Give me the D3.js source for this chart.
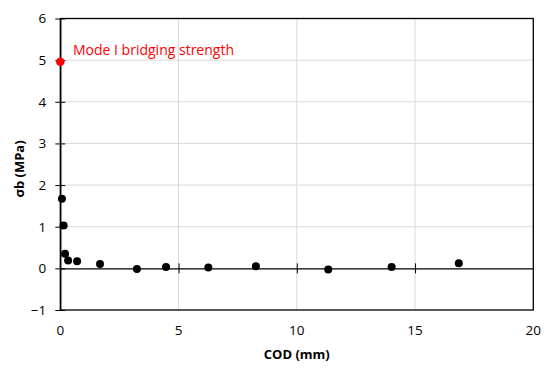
<!DOCTYPE html>
<html><head><meta charset="utf-8">
<script src="https://cdn.jsdelivr.net/npm/d3@7"></script>
<style>body{margin:0;background:#fff}svg{display:block}</style>
</head><body>
<svg id="c" width="550" height="369"></svg>
<script>
const codValues = [0.07, 0.14, 0.2, 0.33, 0.71, 1.68, 3.24, 4.47, 6.26, 8.27, 11.33, 14.01, 16.85];
const sigmaValues = [1.67, 1.03, 0.35, 0.19, 0.17, 0.105, -0.015, 0.03, 0.02, 0.05, -0.03, 0.03, 0.12];
const strengthCod = [0];
const strengthSigma = [4.96];
const strengthLabel = "Mode I bridging strength";
const xTicks = [0, 5, 10, 15, 20];
const yTicks = [-1, 0, 1, 2, 3, 4, 5, 6];
const xTitle = "COD (mm)";
const yTitle = "σb (MPa)";

const svg = d3.select("#c");
const L = 60.3, R = 533.3, T = 18.5, B = 310;
const x = d3.scaleLinear().domain([0, 20]).range([L, R]);
const y = d3.scaleLinear().domain([-1, 6]).range([B, T]);
const font = "'Open Sans', sans-serif";

// gridlines
svg.append("g").selectAll("line.v").data(xTicks.slice(1, -1)).join("line")
  .attr("x1", d => x(d)).attr("x2", d => x(d)).attr("y1", T).attr("y2", B)
  .attr("stroke", "#d9d9d9").attr("stroke-width", 1);
svg.append("g").selectAll("line.h").data(yTicks.filter(d => d !== 0 && d !== -1 && d !== 6)).join("line")
  .attr("x1", L).attr("x2", R).attr("y1", d => y(d)).attr("y2", d => y(d))
  .attr("stroke", "#d9d9d9").attr("stroke-width", 1);

// frame
svg.append("rect").attr("x", L).attr("y", T).attr("width", R - L).attr("height", B - T)
  .attr("fill", "none").attr("stroke", "#000").attr("stroke-width", 1.3);

// y axis
const yAxis = d3.axisLeft(y).tickValues(yTicks).tickSizeInner(5).tickSizeOuter(0).tickPadding(9)
  .tickFormat(d => d < 0 ? "\u2212" + Math.abs(d) : d);
const gy = svg.append("g").attr("transform", `translate(${L},0)`).call(yAxis);
gy.select(".domain").attr("stroke", "#000").attr("stroke-width", 1.3);
gy.selectAll(".tick line").attr("stroke", "#000").attr("x2", 5).attr("x1", -5);
gy.selectAll(".tick text").attr("font-family", font).attr("font-size", 13.5).attr("fill", "#000");

// x axis at y=0
const xAxis = d3.axisBottom(x).tickValues(xTicks).tickSizeOuter(0).tickFormat("");
const gx = svg.append("g").attr("transform", `translate(0,${y(0)})`).call(xAxis);
gx.select(".domain").attr("stroke", "#000").attr("stroke-width", 1.3);
gx.selectAll(".tick line").attr("stroke", "#000").attr("y1", -5).attr("y2", 5)
  .filter(d => d === 0 || d === 20).remove();

// x tick labels at bottom
svg.append("g").selectAll("text").data(xTicks).join("text")
  .attr("x", d => x(d)).attr("y", 335).attr("text-anchor", "middle")
  .attr("font-family", font).attr("font-size", 13.5).attr("fill", "#000").text(d => d);

// titles
svg.append("text").attr("x", x(10)).attr("y", 359).attr("text-anchor", "middle")
  .attr("font-family", font).attr("font-size", 13).attr("font-weight", "bold").text(xTitle);
svg.append("text").attr("transform", `translate(24,169) rotate(-90)`).attr("text-anchor", "middle")
  .attr("font-family", font).attr("font-size", 13).attr("font-weight", "bold").text(yTitle);

// data points
svg.append("g").selectAll("circle").data(codValues).join("circle")
  .attr("cx", (d) => x(d)).attr("cy", (d, i) => y(sigmaValues[i])).attr("r", 4).attr("fill", "#000");

// red point
svg.append("g").selectAll("circle").data(strengthCod).join("circle")
  .attr("cx", d => x(d)).attr("cy", (d, i) => y(strengthSigma[i])).attr("r", 4.3).attr("fill", "#ff0000");
svg.append("text").attr("x", 73).attr("y", 55).attr("font-family", font).attr("font-size", 14)
  .attr("fill", "#ff0000").text(strengthLabel);
</script>
</body></html>
